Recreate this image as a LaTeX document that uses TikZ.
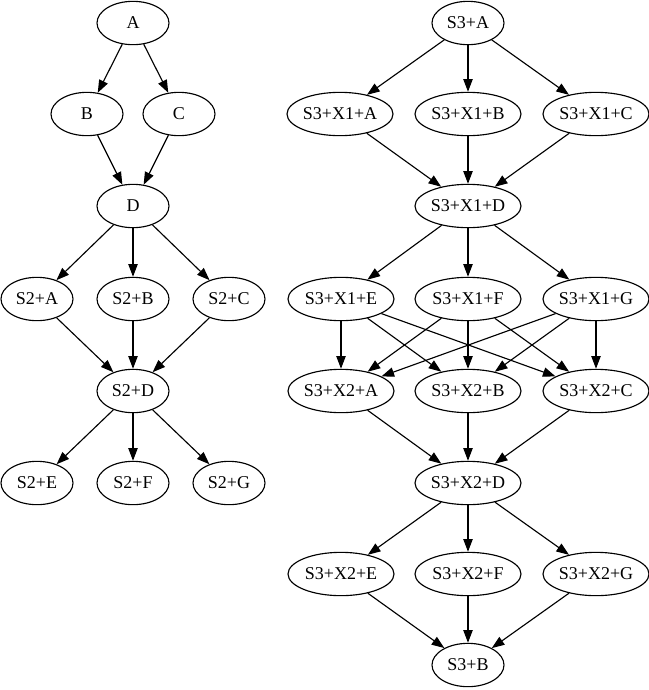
\documentclass[tikz,border=0pt]{standalone}
\usepackage{fontspec}
\setmainfont{Liberation Serif}
\usetikzlibrary{shapes.geometric,arrows.meta}
\begin{document}
\begin{tikzpicture}[x=0.75pt,y=-0.75pt,
  nd/.style={ellipse,draw,line width=0.85pt,inner sep=0pt,minimum width=54pt,minimum height=32.5pt,font=\fontsize{13.5}{16}\selectfont},
  wnd/.style={nd,minimum width=79.5pt},
  ed/.style={line width=0.85pt,-{Triangle[length=9.5pt,width=7pt]}}]
\useasboundingbox (0,0) rectangle (649,690);
% left graph
\node[nd] (A) at (133,23) {A};
\node[nd] (B) at (87,114) {B};
\node[nd] (C) at (179,114) {C};
\node[nd] (D) at (133,206) {D};
\node[nd] (S2A) at (37,299) {S2+A};
\node[nd] (S2B) at (133,299) {S2+B};
\node[nd] (S2C) at (229,299) {S2+C};
\node[nd] (S2D) at (133,391) {S2+D};
\node[nd] (S2E) at (37,483) {S2+E};
\node[nd] (S2F) at (133,483) {S2+F};
\node[nd] (S2G) at (229,483) {S2+G};
\foreach \a/\b in {A/B,A/C,B/D,C/D,D/S2A,D/S2B,D/S2C,S2A/S2D,S2B/S2D,S2C/S2D,S2D/S2E,S2D/S2F,S2D/S2G}
  \draw[ed] (\a) -- (\b);
% right graph
\node[nd] (S3A) at (468,23) {S3+A};
\node[wnd] (X1A) at (340,114) {S3+X1+A};
\node[wnd] (X1B) at (468,114) {S3+X1+B};
\node[wnd] (X1C) at (596,114) {S3+X1+C};
\node[wnd] (X1D) at (468,206) {S3+X1+D};
\node[wnd] (X1E) at (341,299) {S3+X1+E};
\node[wnd] (X1F) at (468,299) {S3+X1+F};
\node[wnd] (X1G) at (596,299) {S3+X1+G};
\node[wnd] (X2A) at (341,391) {S3+X2+A};
\node[wnd] (X2B) at (468,391) {S3+X2+B};
\node[wnd] (X2C) at (596,391) {S3+X2+C};
\node[wnd] (X2D) at (468,483) {S3+X2+D};
\node[wnd] (X2E) at (341,574) {S3+X2+E};
\node[wnd] (X2F) at (468,574) {S3+X2+F};
\node[wnd] (X2G) at (596,574) {S3+X2+G};
\node[nd] (S3B) at (468,665) {S3+B};
\foreach \a/\b in {S3A/X1A,S3A/X1B,S3A/X1C,X1A/X1D,X1B/X1D,X1C/X1D,X1D/X1E,X1D/X1F,X1D/X1G,
  X1E/X2A,X1E/X2B,X1E/X2C,X1F/X2A,X1F/X2B,X1F/X2C,X1G/X2A,X1G/X2B,X1G/X2C,
  X2A/X2D,X2B/X2D,X2C/X2D,X2D/X2E,X2D/X2F,X2D/X2G,X2E/S3B,X2F/S3B,X2G/S3B}
  \draw[ed] (\a) -- (\b);
\end{tikzpicture}
\end{document}
